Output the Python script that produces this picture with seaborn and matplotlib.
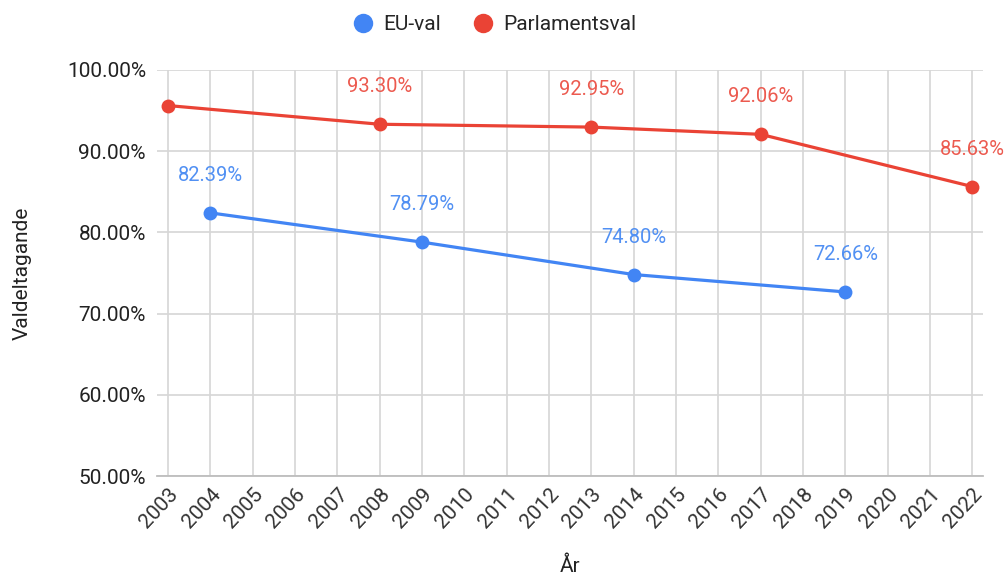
import matplotlib
matplotlib.use("Agg")
import matplotlib.pyplot as plt
from matplotlib.lines import Line2D
import seaborn as sns
import pandas as pd

eu_years = [2004, 2009, 2014, 2019]
eu_values = [82.39, 78.79, 74.80, 72.66]
parl_years = [2003, 2008, 2013, 2017, 2022]
parl_values = [95.60, 93.30, 92.95, 92.06, 85.63]
parl_labelled = [False, True, True, True, True]
series_names = ["EU-val", "Parlamentsval"]
x_ticks = list(range(2003, 2023))
y_ticks = [50, 60, 70, 80, 90, 100]

BLUE = "#4285F4"
RED = "#EA4335"
BLUE_TXT = "#5190F3"
RED_TXT = "#EC5A4F"

df = pd.concat([
    pd.DataFrame({"År": eu_years, "Valdeltagande": eu_values, "Serie": series_names[0]}),
    pd.DataFrame({"År": parl_years, "Valdeltagande": parl_values, "Serie": series_names[1]}),
], ignore_index=True)

sns.set_theme(style="white")
plt.rcParams["font.family"] = ["Roboto", "DejaVu Sans"]

fig = plt.figure(figsize=(10.07, 5.77), dpi=100)
ax = fig.add_axes([0.156, 0.175, 0.82, 0.704])

sns.lineplot(data=df, x="År", y="Valdeltagande", hue="Serie",
             palette={series_names[0]: BLUE, series_names[1]: RED},
             marker="o", markersize=10, markeredgewidth=0, linewidth=2.3,
             legend=False, ax=ax, zorder=3)

ax.set_xlim(2002.74, 2022.25)
ax.set_ylim(50, 100)
ax.set_xticks(x_ticks)
ax.set_xticklabels([str(x) for x in x_ticks], rotation=47, ha="right",
                   rotation_mode="anchor", fontsize=15, color="#333333")
ax.set_yticks(y_ticks)
ax.set_yticklabels([f"{v:.2f}%" for v in y_ticks], fontsize=15, color="#222222")
ax.tick_params(axis="both", length=0)
ax.tick_params(axis="y", pad=8)
ax.tick_params(axis="x", pad=6)
ax.grid(True, color="#d6d6d6", linewidth=1.2)
ax.set_axisbelow(True)
for s in ["top", "right", "left"]:
    ax.spines[s].set_visible(False)
ax.spines["bottom"].set_color("#bdbdbd")
ax.spines["bottom"].set_linewidth(1.3)

ax.set_xlabel("År", fontsize=15, color="#222222", labelpad=18)
ax.set_ylabel("Valdeltagande", fontsize=15, color="#222222", labelpad=25)

for x, y in zip(eu_years, eu_values):
    ax.annotate(f"{y:.2f}%", (x, y), xytext=(0, 27), textcoords="offset points",
                ha="center", va="center", fontsize=14.5, color=BLUE_TXT,
                annotation_clip=False)
for x, y, lab in zip(parl_years, parl_values, parl_labelled):
    if lab:
        ax.annotate(f"{y:.2f}%", (x, y), xytext=(0, 27), textcoords="offset points",
                    ha="center", va="center", fontsize=14.5, color=RED_TXT,
                    annotation_clip=False)

handles = [Line2D([], [], linestyle="none", marker="o", markersize=14,
                  markerfacecolor=c, markeredgewidth=0) for c in (BLUE, RED)]
fig.legend(handles, series_names, loc="center", bbox_to_anchor=(0.491, 0.957),
           ncol=2, frameon=False, fontsize=15, handletextpad=0.5,
           columnspacing=1.5, handlelength=1.0)

fig.savefig("out.png", dpi=100)
